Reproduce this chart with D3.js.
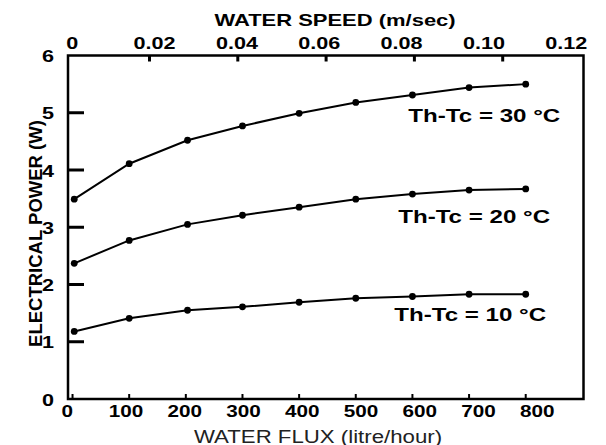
<!DOCTYPE html>
<html>
<head>
<meta charset="utf-8">
<script src="https://cdn.jsdelivr.net/npm/d3@7"></script>
<style>
  body { margin: 0; background: #fff; }
  svg text { font-family: "Liberation Sans", Arial, sans-serif; fill: #000; }
</style>
</head>
<body>
<svg id="chart"></svg>
<script>
// water flux (litre/hour) where power was measured
const flux = [3, 100, 203, 300, 400, 500, 600, 700, 800];
// electrical power (W) for each temperature difference
const power30 = [3.49, 4.11, 4.52, 4.77, 4.99, 5.18, 5.31, 5.44, 5.50];
const power20 = [2.37, 2.77, 3.05, 3.21, 3.35, 3.49, 3.58, 3.65, 3.67];
const power10 = [1.18, 1.41, 1.55, 1.61, 1.69, 1.76, 1.79, 1.83, 1.83];
const seriesNames = ["Th-Tc = 30 \u00B0C", "Th-Tc = 20 \u00B0C", "Th-Tc = 10 \u00B0C"];
// where each series label ends (data units)
const labelFlux = [861, 843, 836];
const labelPower = [4.84, 3.07, 1.36];

const fluxTicks = [0, 100, 200, 300, 400, 500, 600, 700, 800];
const speedTicks = [0, 0.02, 0.04, 0.06, 0.08, 0.10, 0.12];
const speedInner = [0.02, 0.04, 0.06, 0.08, 0.10];
const powerTicks = [0, 1, 2, 3, 4, 5, 6];
const powerInner = [1, 2, 3, 4, 5];

const width = 606, height = 445;
const stretch = 1.27; // text in the picture is wide

const svg = d3.select("#chart")
  .attr("width", width)
  .attr("height", height);

let x = d3.scaleLinear().domain([-8, 902]).range([68, 583.5]);
let xLab = d3.scaleLinear().domain([0, 800]).range([66.7, 536.7]);
let speed = d3.scaleLinear().domain([0, 0.12]).range([61.2, 591]);
let speedLab = d3.scaleLinear().domain([0, 0.12]).range([71.7, 565.8]);
let y = d3.scaleLinear().domain([0, 6]).range([399, 55.5]);

let plotLeft = x.range()[0], plotRight = x.range()[1];
let plotTop = y.range()[1], plotBottom = y.range()[0];

// inner ticks
let tickG = svg.append("g").attr("class", "inner-ticks").style("stroke", "#000");

tickG.selectAll(".tb")
  .data(fluxTicks)
  .enter()
  .append("line")
  .attr("class", "tb")
  .attr("x1", d => x(d)).attr("x2", d => x(d))
  .attr("y1", plotBottom).attr("y2", plotBottom - 5)
  .style("stroke-width", 2);

tickG.selectAll(".tt")
  .data(speedInner)
  .enter()
  .append("line")
  .attr("class", "tt")
  .attr("x1", d => speed(d)).attr("x2", d => speed(d))
  .attr("y1", plotTop).attr("y2", plotTop + 6)
  .style("stroke-width", 3);

tickG.selectAll(".tl")
  .data(powerInner)
  .enter()
  .append("line")
  .attr("class", "tl")
  .attr("x1", plotLeft).attr("x2", plotLeft + 16)
  .attr("y1", d => y(d)).attr("y2", d => y(d))
  .style("stroke-width", 3);

// frame
svg.append("rect")
  .attr("x", plotLeft).attr("y", plotTop)
  .attr("width", plotRight - plotLeft).attr("height", plotBottom - plotTop)
  .attr("fill", "none")
  .attr("stroke", "#000")
  .attr("stroke-width", 2.5);

// tick labels
svg.append("g")
  .attr("transform", "translate(0," + plotBottom + ")")
  .call(d3.axisBottom(xLab).tickValues(fluxTicks).tickSize(0).tickFormat(d3.format("d")))
  .call(g => g.select(".domain").remove())
  .selectAll("text")
  .attr("y", 18.4).attr("dy", 0)
  .attr("transform", "scale(" + stretch + ",1)")
  .style("font-size", "16.3px").style("font-weight", "bold");

svg.append("g")
  .attr("transform", "translate(0," + plotTop + ")")
  .call(d3.axisTop(speedLab).tickValues(speedTicks).tickSize(0)
    .tickFormat(d => d === 0 ? "0" : d3.format(".2f")(d)))
  .call(g => g.select(".domain").remove())
  .selectAll("text")
  .attr("y", -6.5).attr("dy", 0)
  .attr("transform", "scale(" + stretch + ",1)")
  .style("font-size", "17px").style("font-weight", "bold");

svg.append("g")
  .attr("transform", "translate(" + plotLeft + ",0)")
  .call(d3.axisLeft(y).tickValues(powerTicks).tickSize(0).tickFormat(d3.format("d")))
  .call(g => g.select(".domain").remove())
  .selectAll("text")
  .attr("x", -11).attr("dy", "0.36em")
  .attr("transform", "scale(" + stretch + ",1)")
  .style("font-size", "17px").style("font-weight", "bold");

// axis titles
svg.append("text")
  .attr("transform", "translate(335,26) scale(" + stretch + ",1)")
  .attr("text-anchor", "middle")
  .style("font-size", "17.3px").style("font-weight", "bold")
  .text("WATER SPEED (m/sec)");

svg.append("text")
  .attr("transform", "translate(318,442.5) scale(" + stretch + ",1)")
  .attr("text-anchor", "middle")
  .style("font-size", "17.5px")
  .style("fill", "#222")
  .text("WATER FLUX (litre/hour)");

svg.append("text")
  .attr("transform", "translate(42.3,233.5) rotate(-90)")
  .attr("text-anchor", "middle")
  .style("font-size", "18.5px").style("font-weight", "bold")
  .text("ELECTRICAL POWER (W)");

// curves
let allSeries = [power30, power20, power10];
let line = d3.line()
  .x((d, i) => x(flux[i]))
  .y(d => y(d));

allSeries.forEach(function(vals, k) {
  svg.append("path")
    .datum(vals)
    .attr("d", line)
    .attr("fill", "none")
    .attr("stroke", "#000")
    .attr("stroke-width", 2);

  svg.append("g")
    .selectAll("circle")
    .data(vals)
    .enter()
    .append("circle")
    .attr("cx", (d, i) => x(flux[i]))
    .attr("cy", d => y(d))
    .attr("r", 3.4)
    .attr("fill", "#000");

  svg.append("text")
    .attr("transform", "translate(" + x(labelFlux[k]) + "," + y(labelPower[k]) + ") scale(" + stretch + ",1)")
    .attr("text-anchor", "end")
    .style("font-size", "19px").style("font-weight", "bold")
    .text(seriesNames[k]);
});
</script>
</body>
</html>
